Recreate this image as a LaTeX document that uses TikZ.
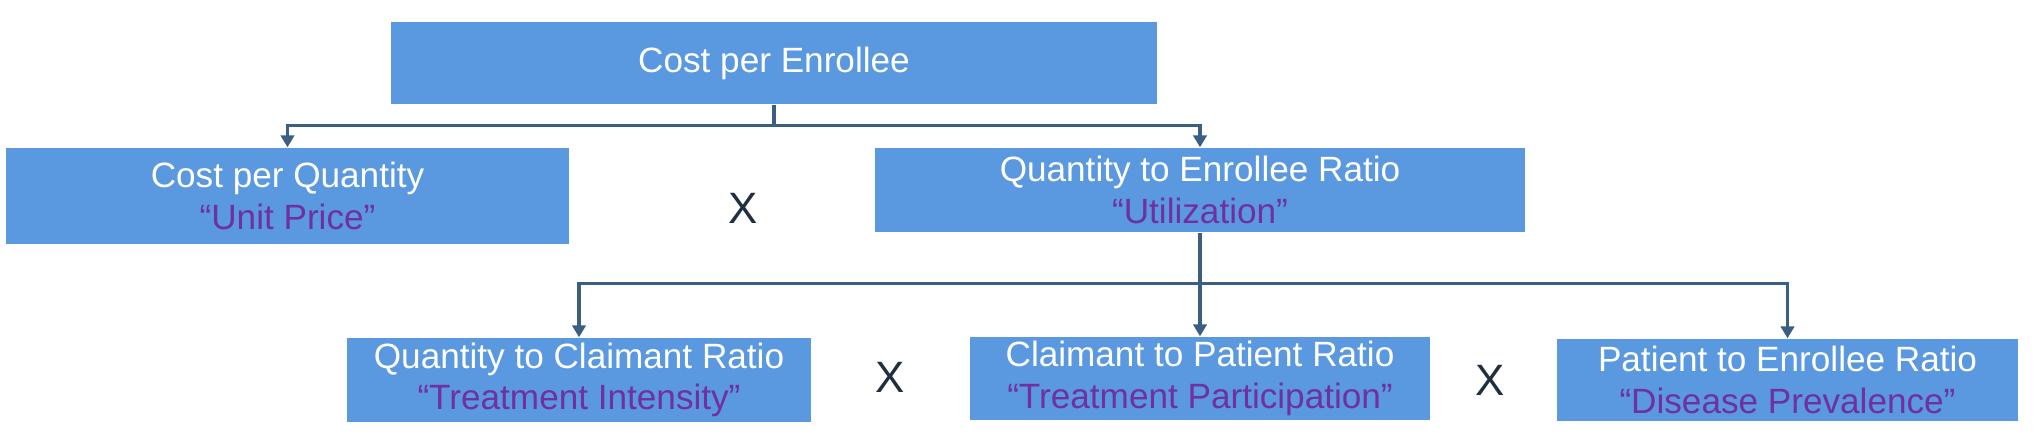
\documentclass[tikz,border=0pt]{standalone}
\usepackage{fontspec}
\setmainfont{Liberation Sans}
\usepackage{tikz}
\usetikzlibrary{arrows.meta, positioning}
\definecolor{boxblue}{RGB}{90,152,224}
\definecolor{linkblue}{RGB}{58,95,130}
\definecolor{nickpurple}{RGB}{112,48,160}
\definecolor{timesgray}{RGB}{31,47,63}
\newcommand\nick[1]{{\color{nickpurple}“#1”}}

\begin{document}
\begin{tikzpicture}[>={Triangle[length=3.4pt,width=3.8pt]},
 every node/.style={font=\fontsize{10}{11.8}\selectfont},
 metric/.style={rectangle,fill=boxblue,text=white,align=center,inner sep=0pt},
 times/.style={text=timesgray,font=\fontsize{12.5}{12.5}\selectfont},
 link/.style={->,linkblue,line width=1pt},
 trunk/.style={linkblue,line width=1pt}]
 \useasboundingbox (0,0) rectangle (20.38,4.44);
 % top level
 \node[metric,minimum width=7.66cm,minimum height=.82cm] (cpe) at (7.74,3.81) {Cost per Enrollee};
 % second level
 \node[metric,minimum width=5.63cm,minimum height=.96cm] (unitp) at (2.875,2.48)
   {Cost per Quantity\\ \nick{Unit Price}};
 \node[metric,minimum width=6.50cm,minimum height=.84cm] (util) at (12.0,2.54)
   {Quantity to Enrollee Ratio\\ \nick{Utilization}};
 \node[times] (x1) at (7.43,2.36) {X};
 % third level
 \node[metric,minimum width=4.64cm,minimum height=.84cm] (intens) at (5.79,0.64)
   {Quantity to Claimant Ratio\\ \nick{Treatment Intensity}};
 \node[metric,minimum width=4.60cm,minimum height=.83cm] (partic) at (12.0,0.655)
   {Claimant to Patient Ratio\\ \nick{Treatment Participation}};
 \node[metric,minimum width=4.61cm,minimum height=.82cm] (preval) at (17.875,0.64)
   {Patient to Enrollee Ratio\\ \nick{Disease Prevalence}};
 \node[times] (x2) at (8.90,0.67) {X};
 \node[times] (x3) at (14.90,0.64) {X};
 % connectors
 \draw[trunk] (cpe.south) -- ++(0,-.21) coordinate (split1);
 \draw[link] (split1) -| (unitp.north);
 \draw[link] (split1) -| (util.north);
 \draw[trunk] (util.south) -- ++(0,-.51) coordinate (split2);
 \draw[link] (split2) -| (intens.north);
 \draw[link] (split2) -- (partic.north);
 \draw[link] (split2) -| (preval.north);
\end{tikzpicture}
\end{document}
